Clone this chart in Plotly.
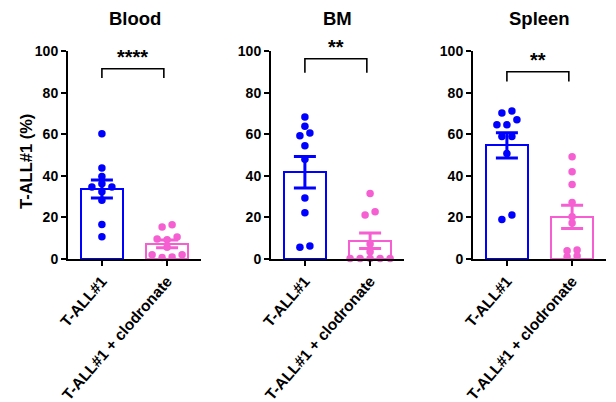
import numpy as np
import plotly.graph_objects as go

# ---------------- data ----------------
tissues = ["Blood", "BM", "Spleen"]
groups = ["T-ALL#1", "T-ALL#1 + clodronate"]
blood_ctrl = [60.2, 43.7, 39.7, 36.2, 34.6, 34.6, 32.3, 28.2, 16.6, 10.7]
blood_clod = [16.5, 15.4, 10.6, 9.6, 9.3, 5.6, 2.1, 2.1, 1.0, 0.7]
bm_ctrl = [68.3, 63.8, 60.6, 59.2, 54.4, 48.0, 29.3, 22.2, 6.2, 5.6]
bm_clod = [31.5, 22.7, 21.1, 7.2, 3.5, 0.3, 0.3, 0.3, 0.3, 0.3]
spleen_ctrl = [71.2, 70.2, 67.0, 64.5, 64.5, 58.9, 58.9, 50.7, 21.1, 19.0]
spleen_clod = [49.1, 41.9, 35.8, 27.2, 20.3, 17.3, 4.3, 4.0, 1.4, 1.1]
significance = ["****", "**", "**"]
bracket_top = [91.5, 96.3, 90.0]
bracket_leg = [87.0, 89.6, 85.3]
y_tick_vals = [0, 20, 40, 60, 80, 100]
y_title = "T-ALL#1 (%)"

panels = [(blood_ctrl, blood_clod), (bm_ctrl, bm_clod), (spleen_ctrl, spleen_clod)]
colors = ["#0000FF", "#F55FD2"]

W, H = 616, 402
OFF = 8  # page body margin offset
x_dom_px = [(68, 201), (271, 404), (473, 606)]
y_dom_px = (51, 259)  # top (100) and bottom (0) in screen pixels from top
XR = [-0.52, 1.52]
px_per_unit_x = 133 / (XR[1] - XR[0])
px_per_unit_y = (y_dom_px[1] - y_dom_px[0]) / 100.0


def swarm_offsets(vals, step_px=10.0, thr_px=6.0):
    """Row-based beeswarm: values closer than a dot are laid side by side."""
    order = np.argsort(vals)
    v = np.asarray(vals, float)
    offs = np.zeros(len(v))
    grp = []
    groups_ = []
    for i in order:
        if grp and (v[i] - v[grp[0]]) * px_per_unit_y >= thr_px:
            groups_.append(grp)
            grp = []
        grp.append(i)
    if grp:
        groups_.append(grp)
    for g in groups_:
        n = len(g)
        if n % 2 == 1:
            slots = [0]
            k = 1
            while len(slots) < n:
                slots += [-k, k]
                k += 1
        else:
            slots = []
            k = 0.5
            while len(slots) < n:
                slots += [-k, k]
                k += 1
        for idx, s in zip(g, slots[:n]):
            offs[idx] = s * step_px / px_per_unit_x
    return offs


def fx(px):
    return (px - OFF) / W


def fy(px):
    return 1 - (px - OFF) / H


fig = go.Figure()
bold = dict(family="Arial, Liberation Sans, sans-serif", color="black", weight="bold")

for p, (ctrl, clod) in enumerate(panels):
    xa = "x" if p == 0 else f"x{p+1}"
    ya = "y" if p == 0 else f"y{p+1}"
    for g, vals in enumerate([ctrl, clod]):
        vals = np.asarray(vals, float)
        mean = vals.mean()
        sem = vals.std(ddof=1) / np.sqrt(len(vals))
        col = colors[g]
        fig.add_trace(go.Bar(
            x=[g], y=[mean], width=0.64, xaxis=xa, yaxis=ya,
            marker=dict(color="white", line=dict(color=col, width=2)),
            showlegend=False, hoverinfo="skip"))
        fig.add_trace(go.Scatter(
            x=g + swarm_offsets(vals), y=vals, mode="markers", xaxis=xa, yaxis=ya,
            marker=dict(color=col, size=7.5, line=dict(width=0)),
            cliponaxis=False, showlegend=False))
        fig.add_trace(go.Scatter(
            x=[g], y=[mean], mode="markers", xaxis=xa, yaxis=ya,
            marker=dict(size=0.1, color=col),
            error_y=dict(type="data", array=[sem], color=col, thickness=3, width=11),
            cliponaxis=False, showlegend=False))
    # significance bracket
    xref, yref = xa, ya
    fig.add_shape(type="path",
                  path=f"M 0 {bracket_leg[p]} L 0 {bracket_top[p]} L 0.95 {bracket_top[p]} L 0.95 {bracket_leg[p]}",
                  xref=xref, yref=yref, line=dict(color="black", width=1.6))
    fig.add_annotation(x=0.475, y=bracket_top[p], xref=xref, yref=yref,
                       text=significance[p], showarrow=False, yanchor="bottom",
                       yshift=-1, font=dict(bold, size=20))
    # panel title
    x0, x1 = x_dom_px[p]
    fig.add_annotation(x=fx((x0 + x1) / 2), y=fy(18), xref="paper", yref="paper",
                       text=tissues[p], showarrow=False, font=dict(bold, size=18.5),
                       xanchor="center", yanchor="middle")

    ax = dict(domain=[fx(x0), fx(x1)], range=XR, showgrid=False, zeroline=False,
              showline=True, linecolor="black", linewidth=2, ticks="outside",
              ticklen=5, tickwidth=2, tickcolor="black", tickvals=[0, 1],
              ticktext=groups, tickangle=-49, tickfont=dict(bold, size=15.5),
              anchor=ya, fixedrange=True, automargin=False)
    ay = dict(domain=[fy(y_dom_px[1]), fy(y_dom_px[0])], range=[0, 100],
              showgrid=False, zeroline=False, showline=True, linecolor="black",
              linewidth=2, ticks="outside", ticklen=5, tickwidth=2, tickcolor="black",
              tickvals=y_tick_vals, tickfont=dict(bold, size=14), anchor=xa,
              fixedrange=True, automargin=False)
    fig.layout["xaxis" if p == 0 else f"xaxis{p+1}"] = ax
    fig.layout["yaxis" if p == 0 else f"yaxis{p+1}"] = ay

fig.add_annotation(x=fx(26), y=fy(162), xref="paper", yref="paper",
                   text=y_title, showarrow=False, textangle=-90,
                   font=dict(bold, size=16.5), xanchor="center", yanchor="middle")

fig.update_layout(width=W, height=H, margin=dict(l=0, r=0, t=0, b=0, autoexpand=False),
                  plot_bgcolor="white", paper_bgcolor="white", barmode="overlay",
                  bargap=0)
fig.write_html("out.html")
